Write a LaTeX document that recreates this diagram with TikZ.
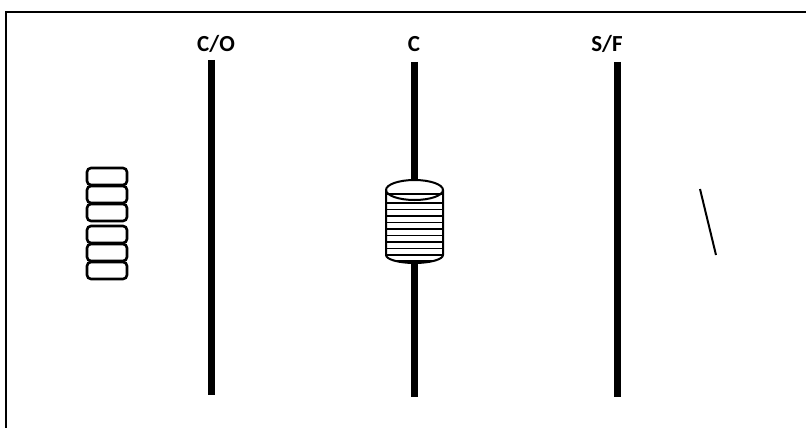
\documentclass[tikz,border=0pt]{standalone}
\usepackage{fontspec}
\setmainfont{Carlito}
\begin{document}
\begin{tikzpicture}[x=1pt,y=-1pt,
  bar/.style={line width=7pt},
  lbl/.style={font=\bfseries\fontsize{23}{26}\selectfont,inner sep=0pt},
  chip/.style={draw,line width=2.6pt,rounded corners=4pt},
  ring/.style={line width=1.2pt}]
\useasboundingbox (0,0) rectangle (806,428);
\begin{scope}
\clip (0,0) rectangle (806,428);
\draw[line width=1.5pt] (6,12) rectangle (830,450);
\end{scope}
% labels
\node[lbl] (lco) at (216,44) {C/O};
\node[lbl] (lc) at (414,44) {C};
\node[lbl] (lsf) at (607,44) {S/F};
% bars
\coordinate (co1) at (211,60); \coordinate (co2) at (211,395);
\coordinate (c1) at (414,62); \coordinate (c2) at (414,397);
\coordinate (sf1) at (617,62); \coordinate (sf2) at (617,397);
\draw[bar] (co1) -- (co2);
\draw[bar] (c1) -- (c2);
\draw[bar] (sf1) -- (sf2);
% stack of chips
\foreach \y in {168,186,204,226,244,262} {
  \draw[chip] (87,\y) rectangle (127,\y+17);
}
% cylinder
\def\cylpath{(386,190) -- (386,255) arc[start angle=180,end angle=0,x radius=28.5,y radius=8] -- (443,190) arc[start angle=0,end angle=-180,x radius=28.5,y radius=10] -- cycle}
\fill[white] \cylpath;
\begin{scope}
\clip \cylpath;
\foreach \y in {194,203,209.5,216,222.5,229,235.5,242,248.5,255,261} {
  \draw[ring] (380,\y) -- (450,\y);
}
\end{scope}
\draw[line width=2pt] \cylpath;
\draw[line width=2pt] (386,190) arc[start angle=180,end angle=0,x radius=28.5,y radius=10];
% slash
\coordinate (s1) at (700,189); \coordinate (s2) at (716,255);
\draw[line width=2pt] (s1) -- (s2);
\end{tikzpicture}
\end{document}
